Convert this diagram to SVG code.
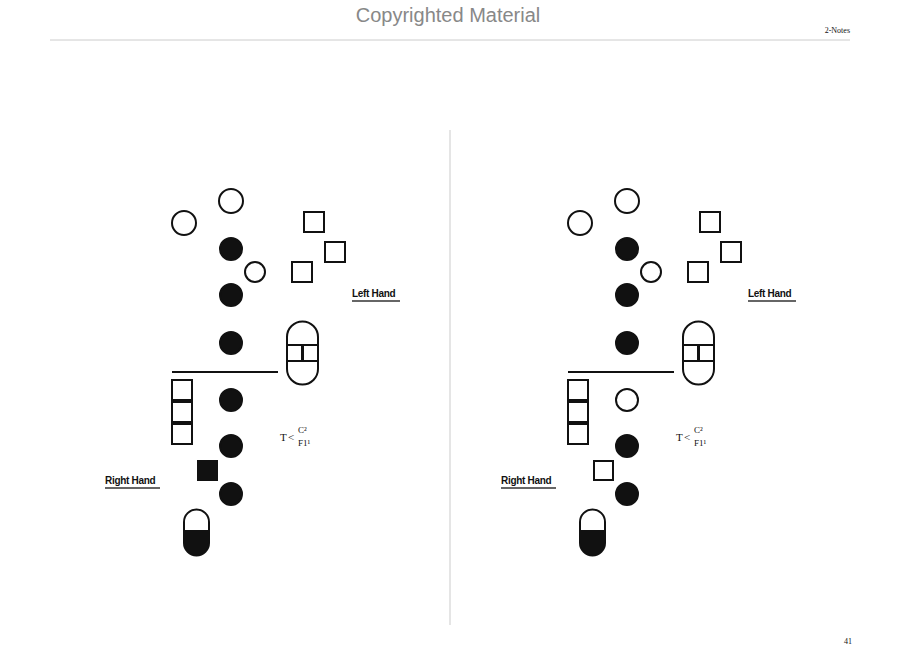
<svg xmlns="http://www.w3.org/2000/svg" width="900" height="672" viewBox="0 0 900 672">
<style>
.o{fill:#fff;stroke:#111;stroke-width:2}
.f{fill:#111;stroke:#111;stroke-width:2}
.t{font-family:"Liberation Serif",serif}
.lab{font-family:"Liberation Sans",sans-serif;font-size:10px;font-weight:bold;letter-spacing:-0.3px}
.ul{stroke:#333;stroke-width:1.5}
</style>
<defs>
<g id="fing">
<circle class="o" cx="231" cy="201" r="12"/>
<circle class="o" cx="184" cy="223" r="12"/>
<circle class="f" cx="231" cy="249" r="11"/>
<circle class="o" cx="255" cy="272" r="10"/>
<circle class="f" cx="231" cy="295" r="11"/>
<circle class="f" cx="231" cy="343" r="11"/>
<circle class="f" cx="231" cy="446" r="11"/>
<circle class="f" cx="231" cy="494" r="11"/>
<rect class="o" x="304" y="212" width="20" height="20"/>
<rect class="o" x="325" y="242" width="20" height="20"/>
<rect class="o" x="292" y="262" width="20" height="20"/>
<line x1="172" y1="372" x2="278" y2="372" stroke="#111" stroke-width="2"/>
<path class="o" d="M287,345 V337 A15.5,15.5 0 0 1 318,337 V345 Z"/>
<path class="o" d="M287,361 V369 A15.5,15.5 0 0 0 318,369 V361 Z"/>
<rect class="o" x="287" y="345" width="15" height="16"/>
<rect class="o" x="303" y="345" width="15" height="16"/>
<rect class="o" x="172" y="380" width="20" height="20"/>
<rect class="o" x="172" y="402" width="20" height="20"/>
<rect class="o" x="172" y="424" width="20" height="20"/>
<path class="o" d="M184,531 V522 A12.5,12.5 0 0 1 209,522 V531 Z"/>
<path class="f" d="M184,533 V543 A12.5,12.5 0 0 0 209,543 V533 Z"/>
<text class="lab" x="352" y="297" fill="#111">Left Hand</text>
<line class="ul" x1="352" y1="301" x2="400" y2="301"/>
<text class="lab" x="105" y="484" fill="#111">Right Hand</text>
<line class="ul" x1="105" y1="488" x2="160" y2="488"/>
<text class="t" x="280" y="441" font-size="11" fill="#111">T</text>
<text class="t" x="288" y="441" font-size="11" fill="#111">&lt;</text>
<text class="t" x="298" y="433" font-size="9" fill="#111">C²</text>
<text class="t" x="298" y="446" font-size="9" fill="#111">F1¹</text>
</g>
</defs>
<rect width="900" height="672" fill="#fff"/>
<text x="448" y="22" text-anchor="middle" font-family="Liberation Sans,sans-serif" font-size="20" fill="#888">Copyrighted Material</text>
<text x="850" y="33" text-anchor="end" class="t" font-size="8" fill="#111">2-Notes</text>
<line x1="50" y1="40" x2="850" y2="40" stroke="#ccc" stroke-width="1"/>
<line x1="450" y1="130" x2="450" y2="625" stroke="#ddd" stroke-width="1.5"/>
<text x="852" y="644" text-anchor="end" class="t" font-size="8" fill="#111">41</text>
<g id="left">
<use href="#fing"/>
<circle class="f" cx="231" cy="400" r="11"/>
<rect class="f" x="198" y="461" width="19" height="19"/>
</g>
<g id="right" transform="translate(396,0)">
<use href="#fing"/>
<circle class="o" cx="231" cy="400" r="11"/>
<rect class="o" x="198" y="461" width="19" height="19"/>
</g>
<g id="connectors"></g>
</svg>
